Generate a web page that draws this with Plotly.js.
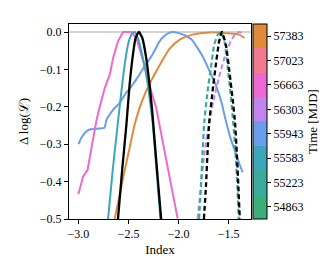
<!DOCTYPE html>
<html><head><meta charset="utf-8">
<script src="https://cdn.plot.ly/plotly-3.0.1.min.js"></script>
<style>html,body{margin:0;padding:0;background:#fff}#c{width:332px;height:260px}</style>
</head><body><div id="c"></div>
<script>
// ---- data ----
const blueX = [-3.0,-2.97,-2.93,-2.88,-2.80,-2.74,-2.72,-2.66,-2.59,-2.53,-2.47,-2.40,-2.34,-2.29,-2.24,-2.19,-2.14,-2.10,-2.06,-2.00,-1.93,-1.87,-1.83,-1.76,-1.69,-1.63,-1.57,-1.53,-1.48,-1.43,-1.39,-1.36];
const blueY = [-0.30,-0.283,-0.268,-0.260,-0.258,-0.256,-0.235,-0.21,-0.19,-0.165,-0.145,-0.118,-0.092,-0.073,-0.05,-0.025,-0.01,-0.003,0,-0.003,-0.01,-0.02,-0.035,-0.065,-0.105,-0.14,-0.19,-0.235,-0.285,-0.324,-0.355,-0.375];
const orangeX = [-2.638,-2.588,-2.538,-2.489,-2.439,-2.389,-2.34,-2.29,-2.223,-2.158,-2.091,-1.992,-1.86,-1.694,-1.528,-1.396,-1.343];
const orangeY = [-0.5,-0.435,-0.37,-0.31,-0.248,-0.203,-0.168,-0.139,-0.105,-0.074,-0.045,-0.021,-0.007,-0.001,-0.003,-0.007,-0.016];
const pinkX = [-3.0,-2.952,-2.909,-2.866,-2.819,-2.786,-2.737,-2.687,-2.654,-2.605,-2.555,-2.51,-2.472,-2.422,-2.372,-2.323,-2.273,-2.223,-2.191,-2.14,-2.091,-2.05,-2.009];
const pinkY = [-0.433,-0.386,-0.369,-0.302,-0.235,-0.199,-0.150,-0.114,-0.070,-0.025,0,0,0,-0.016,-0.061,-0.105,-0.159,-0.203,-0.248,-0.317,-0.386,-0.44,-0.499];
const tealX = [-2.704,-2.657,-2.605,-2.571,-2.538,-2.505,-2.472,-2.439,-2.406,-2.356,-2.307,-2.273,-2.257,-2.22,-2.181];
const tealY = [-0.5,-0.368,-0.24,-0.159,-0.087,-0.034,-0.007,0,-0.016,-0.070,-0.141,-0.212,-0.248,-0.37,-0.5];
const blackX = [-2.605,-2.563,-2.521,-2.489,-2.456,-2.429,-2.396,-2.362,-2.323,-2.290,-2.263,-2.240,-2.207,-2.174];
const blackY = [-0.5,-0.368,-0.248,-0.141,-0.061,-0.016,0,-0.016,-0.070,-0.141,-0.212,-0.288,-0.395,-0.5];
const tealDashX = [-1.795,-1.777,-1.761,-1.744,-1.711,-1.677,-1.644,-1.61,-1.578,-1.545,-1.512,-1.479,-1.452,-1.43,-1.413,-1.40];
const tealDashY = [-0.5,-0.413,-0.323,-0.243,-0.159,-0.096,-0.034,-0.008,0,-0.02,-0.09,-0.17,-0.25,-0.33,-0.413,-0.5];
const blackDashX = [-1.747,-1.727,-1.711,-1.694,-1.661,-1.628,-1.595,-1.568,-1.528,-1.489,-1.46,-1.436,-1.419,-1.403,-1.389];
const blackDashY = [-0.5,-0.413,-0.323,-0.243,-0.159,-0.087,-0.025,0,-0.034,-0.114,-0.18,-0.243,-0.323,-0.413,-0.5];
const lavDashX = [-1.81,-1.777,-1.744,-1.694,-1.64,-1.6,-1.562,-1.52,-1.479,-1.44,-1.396,-1.363];
const lavDashY = [-0.5,-0.413,-0.33,-0.239,-0.17,-0.125,-0.087,-0.05,-0.025,-0.008,0,-0.003];

const mjdTicks = [54863,55223,55583,55943,56303,56663,57023,57383];
const mjdColors = ['#3cae78','#3aaa9a','#3ea6bc','#6b9ded','#c084ec','#ee69cf','#f27a90','#e08a3c'];
const xTicks = [-3.0,-2.5,-2.0,-1.5];
const yTicks = [0.0,-0.1,-0.2,-0.3,-0.4,-0.5];

// ---- build ----
const FONT = 'Liberation Serif, DejaVu Serif, serif';
function line(x,y,color,w,dash,smooth){return {type:'scatter',mode:'lines',x:x,y:y,
  line:{color:color,width:w,dash:dash||'solid',shape:smooth?'spline':'linear',smoothing:smooth||0},hoverinfo:'skip',showlegend:false};}
const step = mjdTicks[1]-mjdTicks[0];
const cmin = mjdTicks[0]-step/2, cmax = mjdTicks[mjdTicks.length-1]+step/2;
const cs = [];
mjdColors.forEach((c,i)=>{cs.push([i/mjdColors.length,c]);cs.push([(i+1)/mjdColors.length,c]);});
const DASH = '5px,3px';

const traces = [
  line(blueX,blueY,mjdColors[3],2,null,0.5),
  line(orangeX,orangeY,mjdColors[7],2,null,0.6),
  line(pinkX,pinkY,mjdColors[5],2),
  line(tealX,tealY,mjdColors[2],2,null,0.5),
  line(lavDashX,lavDashY,mjdColors[4],2,DASH,0.5),
  line(tealDashX,tealDashY,mjdColors[1],2.2,DASH,0.5),
  line(blackX,blackY,'#000',2.3,null,0.5),
  line(blackDashX,blackDashY,'#000',2.3,DASH,0.5),
  {type:'scatter',mode:'markers',x:mjdTicks.map(()=>null),y:mjdTicks.map(()=>null),showlegend:false,hoverinfo:'skip',
   marker:{color:mjdTicks,cmin:cmin,cmax:cmax,colorscale:cs,showscale:true,
     colorbar:{x:1.004,xanchor:'left',xpad:0,ypad:0,y:0.5,yanchor:'middle',len:1,lenmode:'fraction',thickness:14,
       outlinewidth:1,outlinecolor:'#000',tickvals:mjdTicks,ticktext:mjdTicks.map(String),ticks:'outside',ticklen:4,tickcolor:'#000',
       tickfont:{family:FONT,size:12,color:'#000'},
       title:{text:'Time [MJD]',side:'right',font:{family:FONT,size:13,color:'#000'}}}}}
];

const layout = {
  width:332,height:260,margin:{l:69,r:80,t:24,b:41},
  paper_bgcolor:'#fff',plot_bgcolor:'#fff',showlegend:false,
  font:{family:FONT,color:'#000',size:12},
  xaxis:{range:[-3.094,-1.277],tickvals:xTicks,tickformat:'.1f',ticks:'outside',ticklen:4,tickcolor:'#000',
    showline:true,mirror:true,linecolor:'#000',linewidth:1,showgrid:false,zeroline:false,
    tickfont:{family:FONT,size:12},title:{text:'Index',font:{family:FONT,size:13},standoff:4}},
  yaxis:{range:[-0.5,0.0214],tickvals:yTicks,tickformat:'.1f',ticks:'outside',ticklen:4,tickcolor:'#000',
    showline:true,mirror:true,linecolor:'#000',linewidth:1,showgrid:false,zeroline:false,
    tickfont:{family:FONT,size:12},title:{text:'Δ log(ℒ)',font:{family:FONT,size:13},standoff:8}},
  shapes:[{type:'line',xref:'paper',x0:0,x1:1,yref:'y',y0:0,y1:0,line:{color:'#d3d3d3',width:2},layer:'below'}]
};
Plotly.newPlot('c',traces,layout,{displayModeBar:false,staticPlot:true});
</script></body></html>
